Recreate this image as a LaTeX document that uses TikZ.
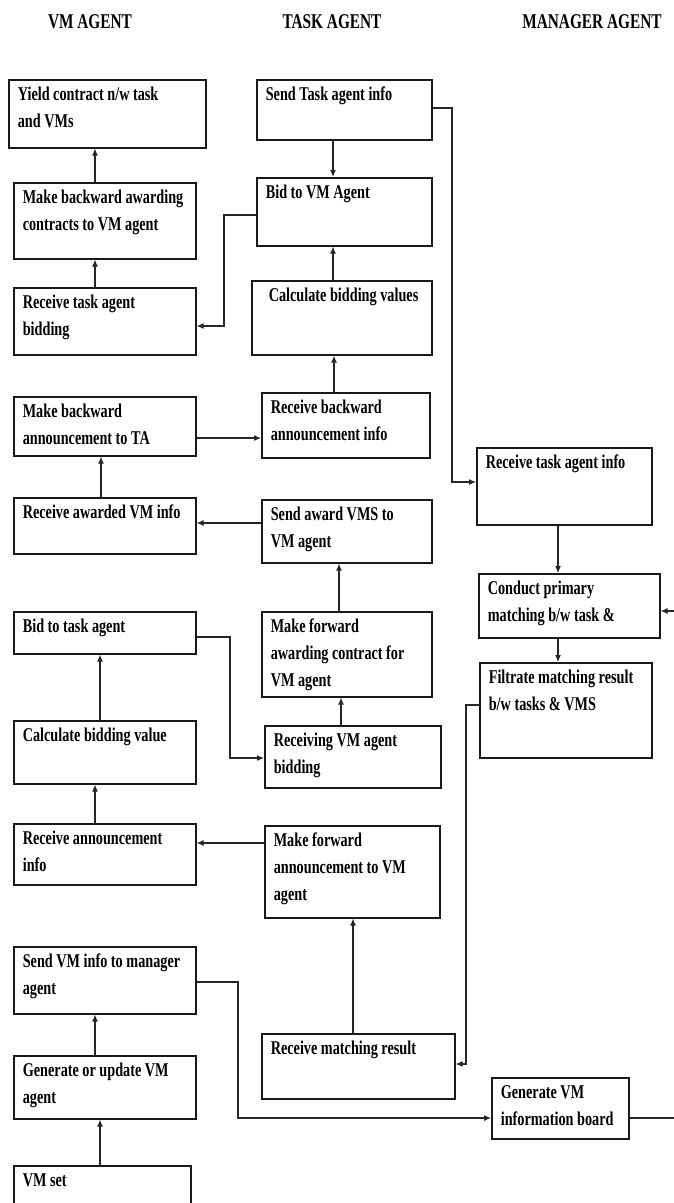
\documentclass[tikz,border=0pt]{standalone}
\usepackage{fontspec}
\usetikzlibrary{arrows.meta}
\newfontfamily\labfont{Liberation Serif}[FakeStretch=0.73]
\tikzset{
  box/.style={draw=black!90, line width=1.6pt, anchor=north west, inner xsep=9pt, inner ysep=0pt,
    font=\labfont\bfseries\fontsize{19.5}{27}\selectfont},
  hdr/.style={font=\labfont\bfseries\fontsize{21}{25}\selectfont, inner sep=0pt},
  arr/.style={draw=black!85, line width=1.1pt, -{Latex[length=7pt,width=6pt]}},
}
\newcommand\bx[7][9]{%
  \pgfmathsetlengthmacro\bxw{(#5-#3-2*#1)*1pt}%
  \pgfmathsetlengthmacro\bxh{(#6-#4)*1pt}%
  \node[box, inner xsep=#1pt] (#2) at (#3,#4)
    {\parbox[t][\bxh][t]{\bxw}{\rule{0pt}{21pt}\begin{tabular}[t]{@{}l@{}}#7\end{tabular}}};}
\begin{document}
\begin{tikzpicture}[x=1pt,y=-1pt]
\useasboundingbox (0,0) rectangle (673,1203);
% headers
\node[hdr] (h1) at (90,22) {VM AGENT};
\node[hdr] (h2) at (332,22) {TASK AGENT};
\node[hdr] (h3) at (592,22) {MANAGER AGENT};
% VM agent column
\bx{a1}{8}{79}{205}{147}{Yield contract n/w task\\and VMs}
\bx{a2}{13}{182}{195}{258}{Make backward awarding\\contracts to VM agent}
\bx{a3}{13}{287}{195}{354}{Receive task agent\\bidding}
\bx{a4}{13}{396}{195}{455}{Make backward\\announcement to TA}
\bx{a5}{13}{497}{195}{553}{Receive awarded VM info}
\bx{a6}{13}{611}{195}{653}{Bid to task agent}
\bx{a7}{13}{720}{195}{783}{Calculate bidding value}
\bx{a8}{13}{823}{195}{884}{Receive announcement\\info}
\bx{a9}{13}{946}{195}{1013}{Send VM info to manager\\agent}
\bx{a10}{13}{1055}{195}{1118}{Generate or update VM\\agent}
\bx{a11}{13}{1165}{190}{1215}{VM set}
% Task agent column
\bx{b1}{256}{79}{431}{139}{Send Task agent info}
\bx{b2}{256}{177}{431}{245}{Bid to VM Agent}
\bx[17]{b3}{251}{280}{431}{354}{Calculate bidding values}
\bx{b4}{261}{392}{429}{457}{Receive backward\\announcement info}
\bx{b5}{261}{499}{431}{562}{Send award VMS to\\VM agent}
\bx{b6}{261}{611}{431}{696}{Make forward\\awarding contract for\\VM agent}
\bx{b7}{264}{725}{440}{787}{Receiving VM agent\\bidding}
\bx{b8}{264}{825}{439}{917}{Make forward\\announcement to VM\\agent}
\bx{b9}{261}{1033}{454}{1098}{Receive matching result}
% Manager agent column
\bx{c1}{476}{447}{651}{524}{Receive task agent info}
\bx{c2}{478}{573}{659}{637}{Conduct primary\\matching b/w task \&}
\bx{c3}{479}{662}{651}{757}{Filtrate matching result\\b/w tasks \& VMS}
\bx{c4}{491}{1077}{628}{1138}{Generate VM\\information board}
% guide coordinates
\coordinate (v95) at (95,0);
\coordinate (v100) at (100,0);
\coordinate (v101) at (101,0);
\coordinate (v333) at (333,0);
\coordinate (v334) at (334,0);
\coordinate (v339) at (339,0);
\coordinate (v341) at (341,0);
\coordinate (v353) at (353,0);
\coordinate (v558) at (558,0);
\coordinate (k3a) at (224,215);
\coordinate (k3b) at (224,326);
\coordinate (k7) at (0,438);
\coordinate (k9) at (0,523);
\coordinate (k11a) at (230,637);
\coordinate (k11b) at (230,758);
\coordinate (k15) at (0,843);
\coordinate (k17a) at (238,982);
\coordinate (k17b) at (238,1118);
\coordinate (k20a) at (452,108);
\coordinate (k20b) at (452,482);
\coordinate (k23a) at (466,705);
\coordinate (k23b) at (466,1064);
\coordinate (k24a) at (677,1118);
\coordinate (k24b) at (677,611);
% connectors
\draw[arr] (a2.north -| v95) -- (a1.south -| v95);
\draw[arr] (a3.north -| v95) -- (a2.south -| v95);
\draw[arr] (b2.west |- k3a) -- (k3a) -- (k3b) -- (a3.east |- k3b);
\draw[arr] (b1.south -| v333) -- (b2.north -| v333);
\draw[arr] (b3.north -| v333) -- (b2.south -| v333);
\draw[arr] (b4.north -| v334) -- (b3.south -| v334);
\draw[arr] (a4.east |- k7) -- (b4.west |- k7);
\draw[arr] (a5.north -| v101) -- (a4.south -| v101);
\draw[arr] (b5.west |- k9) -- (a5.east |- k9);
\draw[arr] (b6.north -| v339) -- (b5.south -| v339);
\draw[arr] (a6.east |- k11a) -- (k11a) -- (k11b) -- (b7.west |- k11b);
\draw[arr] (b7.north -| v341) -- (b6.south -| v341);
\draw[arr] (a7.north -| v100) -- (a6.south -| v100);
\draw[arr] (a8.north -| v95) -- (a7.south -| v95);
\draw[arr] (b8.west |- k15) -- (a8.east |- k15);
\draw[arr] (b9.north -| v353) -- (b8.south -| v353);
\draw[arr] (a9.east |- k17a) -- (k17a) -- (k17b) -- (c4.west |- k17b);
\draw[arr] (a10.north -| v95) -- (a9.south -| v95);
\draw[arr] (a11.north -| v100) -- (a10.south -| v100);
\draw[arr] (b1.east |- k20a) -- (k20a) -- (k20b) -- (c1.west |- k20b);
\draw[arr] (c1.south -| v558) -- (c2.north -| v558);
\draw[arr] (c2.south -| v558) -- (c3.north -| v558);
\draw[arr] (c3.west |- k23a) -- (k23a) -- (k23b) -- (b9.east |- k23b);
\draw[arr] (c4.east |- k24a) -- (k24a) -- (k24b) -- (c2.east |- k24b);
\end{tikzpicture}
\end{document}
